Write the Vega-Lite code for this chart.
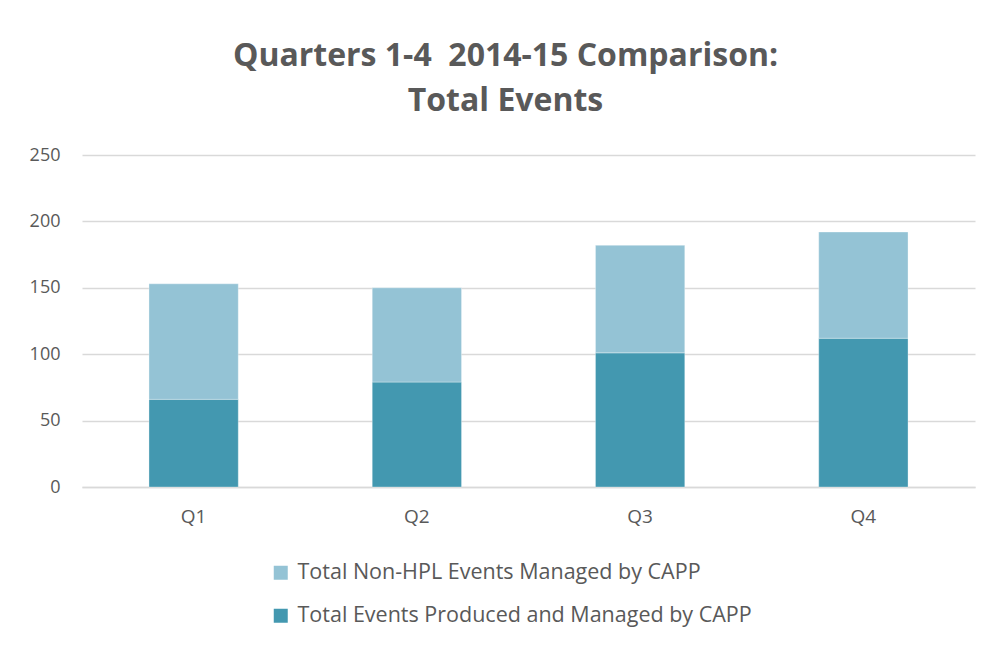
{
  "$schema": "https://vega.github.io/schema/vega-lite/v6.json",
  "width": 893,
  "height": 332,
  "autosize": {"type": "none"},
  "padding": {"left": 82, "top": 155, "right": 16, "bottom": 159},
  "background": "white",
  "title": {
    "text": ["Quarters 1-4\u00a0 2014-15 Comparison:", "Total Events"],
    "font": "Open Sans",
    "fontSize": 32,
    "fontWeight": "bold",
    "color": "#595959",
    "lineHeight": 45,
    "anchor": "middle",
    "dx": -23,
    "offset": 28
  },
  "data": {
    "values": [
      {"quarter": "Q1", "series": "Total Events Produced and Managed by CAPP", "events": 66},
      {"quarter": "Q1", "series": "Total Non-HPL Events Managed by CAPP", "events": 87},
      {"quarter": "Q2", "series": "Total Events Produced and Managed by CAPP", "events": 79},
      {"quarter": "Q2", "series": "Total Non-HPL Events Managed by CAPP", "events": 71},
      {"quarter": "Q3", "series": "Total Events Produced and Managed by CAPP", "events": 101},
      {"quarter": "Q3", "series": "Total Non-HPL Events Managed by CAPP", "events": 81},
      {"quarter": "Q4", "series": "Total Events Produced and Managed by CAPP", "events": 112},
      {"quarter": "Q4", "series": "Total Non-HPL Events Managed by CAPP", "events": 80}
    ]
  },
  "mark": {"type": "bar", "stroke": "white", "strokeOpacity": 0.4, "strokeWidth": 0.8},
  "encoding": {
    "x": {
      "field": "quarter",
      "type": "nominal",
      "scale": {"paddingInner": 0.6, "paddingOuter": 0.3},
      "axis": {
        "title": null,
        "labelAngle": 0,
        "labelFont": "Open Sans",
        "labelFontSize": 19,
        "labelColor": "#595959",
        "labelPadding": 20,
        "ticks": false,
        "domainColor": "#d9d9d9",
        "domainWidth": 1.5
      }
    },
    "y": {
      "field": "events",
      "type": "quantitative",
      "aggregate": "sum",
      "stack": "zero",
      "scale": {"domain": [0, 250]},
      "axis": {
        "title": null,
        "values": [0, 50, 100, 150, 200, 250],
        "labelFont": "Open Sans",
        "labelFontSize": 18,
        "labelColor": "#595959",
        "labelPadding": 22,
        "ticks": false,
        "domain": false,
        "gridColor": "#d9d9d9",
        "gridWidth": 1.5
      }
    },
    "color": {
      "field": "series",
      "type": "nominal",
      "scale": {
        "domain": ["Total Non-HPL Events Managed by CAPP", "Total Events Produced and Managed by CAPP"],
        "range": ["#94c3d5", "#4398b0"]
      },
      "legend": {
        "title": null,
        "orient": "none",
        "legendX": 188,
        "legendY": 407,
        "padding": 0,
        "direction": "vertical",
        "symbolType": "square",
        "symbolSize": 196,
        "symbolStrokeWidth": 0,
        "symbolOpacity": 1,
        "labelOffset": 6,
        "labelFont": "Open Sans",
        "labelFontSize": 21.5,
        "labelColor": "#595959",
        "rowPadding": 20,
        "labelLimit": 600
      }
    },
    "order": {"field": "series", "sort": "ascending"}
  },
  "config": {"view": {"stroke": null}}
}
